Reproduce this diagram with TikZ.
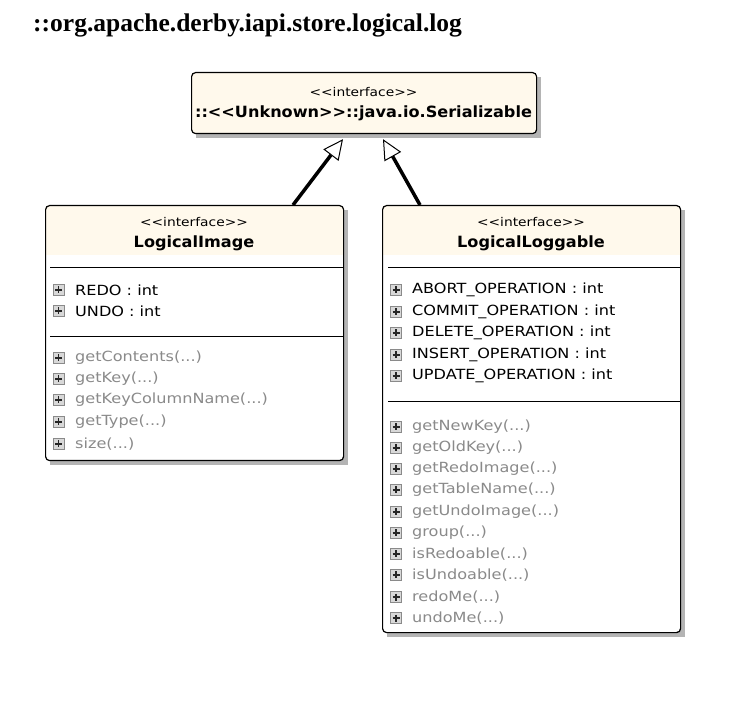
\documentclass[tikz,border=0pt]{standalone}
\usepackage{fontspec}
\setmainfont{Liberation Serif}
\newfontfamily\memberfont[FakeStretch=1.15]{DejaVu Sans}
\newfontfamily\namefont[FakeStretch=1.04]{DejaVu Sans Bold}
\usetikzlibrary{arrows.meta,calc}

\definecolor{cream}{HTML}{FFF9EC}
\definecolor{shadowgray}{HTML}{B4B4B4}
\definecolor{opgray}{HTML}{8A8A8A}
\definecolor{icofill}{HTML}{D8D8D8}

\newcommand\argdots{...}
\newcommand\lguil{<{}<}
\newcommand\rguil{>{}>}

\tikzset{
  boxline/.style={draw=black, line width=1.2pt},
  sepline/.style={draw=black, line width=1pt},
  member/.style={anchor=west, inner sep=0pt, font=\memberfont\fontsize{14}{15}\selectfont},
  operation/.style={member, text=opgray},
  stereo/.style={anchor=center, inner sep=0pt, font=\memberfont\fontsize{12}{13}\selectfont},
  classname/.style={anchor=center, inner sep=0pt, font=\namefont\fontsize{15.5}{16}\selectfont},
  generalization/.style={line width=3.5pt,
    -{Triangle[open, length=20pt, width=19pt, line width=1pt, fill=white]}},
}

% expandable icon in front of each member
\newcommand\plusicon[2]{%
  \draw[draw=opgray, fill=icofill, line width=1pt] (#1-5.5,#2-5.5) rectangle (#1+5.5,#2+5.5);
  \draw[black!85, line width=1.4pt] (#1-3.5,#2) -- (#1+3.5,#2) (#1,#2-3.5) -- (#1,#2+3.5);
}

% class box: name, x0, y0, x1, y1, header bottom
\newcommand\umlbox[6]{%
  \fill[shadowgray] (#2+5,#3+5) rectangle (#4+5,#5+5);
  \fill[white, rounded corners=4] (#2,#3) rectangle (#4,#5);
  \begin{scope}
    \clip[rounded corners=4] (#2,#3) rectangle (#4,#5);
    \fill[cream] (#2,#3) rectangle (#4,#6);
  \end{scope}
  \node[boxline, rounded corners=4, anchor=north west, inner sep=0pt,
        minimum width={#4-#2}, minimum height={#5-#3}] (#1) at (#2,#3) {};
}

\begin{document}
\begin{tikzpicture}[x=1pt, y=-1pt]
  \useasboundingbox (0,0) rectangle (753,708);

  % package title
  \node[anchor=west, inner sep=0pt, font=\bfseries\fontsize{25.5}{26}\selectfont] (title)
    at (33,25) {::org.apache.derby.iapi.store.logical.log};

  % java.io.Serializable
  \umlbox{ser}{191}{72}{536}{133}{133}
  \node[stereo] (serst) at (363.5,92) {\lguil interface\rguil};
  \node[classname] (sernm) at (363.5,113) {::\lguil Unknown\rguil::java.io.Serializable};

  % LogicalImage
  \umlbox{img}{45}{205}{343}{460}{255}
  \node[stereo] (imgst) at (194,222) {\lguil interface\rguil};
  \node[classname] (imgnm) at (194,243) {LogicalImage};
  \draw[sepline] (50,268) -- (343,268);
  \draw[sepline] (50,337) -- (343,337);
  \foreach \y/\t in {290/{REDO : int}, 311/{UNDO : int}} {
    \plusicon{58.5}{\y}
    \node[member] at (75,\y) {\t};
  }
  \foreach \y/\t in {358/{getContents(\argdots)}, 379/{getKey(\argdots)},
                     400/{getKeyColumnName(\argdots)},
                     422/{getType(\argdots)}, 444/{size(\argdots)}} {
    \plusicon{58.5}{\y}
    \node[operation] at (75,\y) {\t};
  }

  % LogicalLoggable
  \umlbox{log}{382}{205}{680}{632}{255}
  \node[stereo] (logst) at (531,222) {\lguil interface\rguil};
  \node[classname] (lognm) at (531,243) {LogicalLoggable};
  \draw[sepline] (388,268) -- (680,268);
  \draw[sepline] (388,402) -- (680,402);
  \foreach \y/\t in {290/{ABORT\_OPERATION : int}, 312/{COMMIT\_OPERATION : int},
                     333/{DELETE\_OPERATION : int}, 355/{INSERT\_OPERATION : int},
                     376/{UPDATE\_OPERATION : int}} {
    \plusicon{396}{\y}
    \node[member] at (412,\y) {\t};
  }
  \foreach \y/\t in {427/{getNewKey(\argdots)}, 448/{getOldKey(\argdots)},
                     469/{getRedoImage(\argdots)}, 490/{getTableName(\argdots)},
                     512/{getUndoImage(\argdots)}, 533/{group(\argdots)},
                     554/{isRedoable(\argdots)}, 575/{isUndoable(\argdots)},
                     597/{redoMe(\argdots)}, 618/{undoMe(\argdots)}} {
    \plusicon{396}{\y}
    \node[operation] at (412,\y) {\t};
  }

  % generalizations
  \draw[generalization] ([xshift=248]img.north west) -- ([xshift=152,yshift=-5]ser.south west);
  \draw[generalization] ([xshift=38]log.north west) -- ([xshift=192,yshift=-5]ser.south west);
\end{tikzpicture}
\end{document}
